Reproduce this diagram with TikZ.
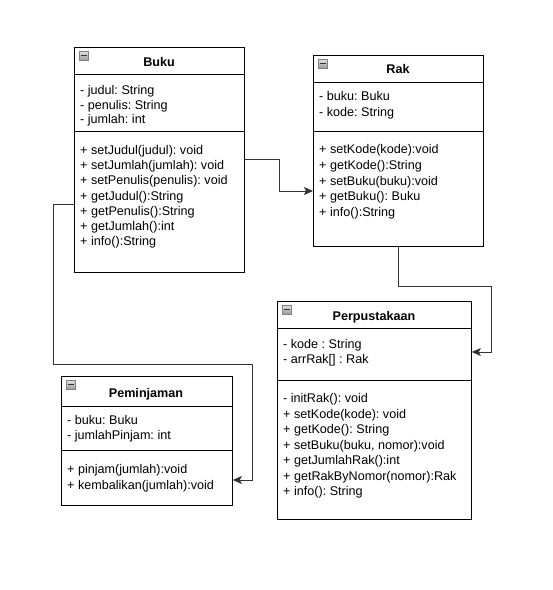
\documentclass[tikz,border=0pt]{standalone}
\usepackage{fontspec}
\setmainfont{Liberation Sans}
\frenchspacing
\usetikzlibrary{arrows.meta,calc}
\tikzset{
  cls/.style={draw=black, line width=0.8pt, fill=white, rectangle, inner sep=0pt, anchor=north west},
  sepline/.style={draw=black, line width=0.8pt},
  txt/.style={inner sep=0pt, anchor=base west, font=\fontsize{12.6}{14}\selectfont},
  ttl/.style={inner sep=0pt, anchor=center, font=\fontsize{12.6}{14}\selectfont\bfseries},
  icon/.style={draw=black!50, line width=0.5pt, top color=black!12, bottom color=black!40, minimum size=9pt, inner sep=0pt, anchor=north west},
  conn/.style={draw=black!80, line width=0.9pt, -{Stealth[length=9pt,width=8pt,inset=2pt]}},
}
\newcommand{\iconbar}{\textcolor{black!80}{\rule[0pt]{6pt}{1.3pt}}}
\begin{document}
\begin{tikzpicture}[x=1pt,y=-1pt]
\useasboundingbox (0,0) rectangle (553,590);
\fill[white] (0,0) rectangle (553,590);

% ---------- Buku ----------
\node[cls, minimum width=170pt, minimum height=225pt] (buku) at (74,47) {};
\draw[sepline] ([yshift=-27pt]buku.north west) -- ([yshift=-27pt]buku.north east);
\draw[sepline] ([yshift=-84pt]buku.north west) -- ([yshift=-84pt]buku.north east);
\node[icon] (bukuI) at (79,51) {\iconbar};
\node[ttl] (bukuT) at (159,62) {Buku};
\foreach \t [count=\i] in {{- judul: String},{- penulis: String},{- jumlah: int}}
  \node[txt] (bukuA\i) at (80,{94.5+14.5*(\i-1)}) {\t};
\foreach \t [count=\i] in {{+ setJudul(judul): void},{+ setJumlah(jumlah): void},{+ setPenulis(penulis): void},{+ getJudul():String},{+ getPenulis():String},{+ getJumlah():int},{+ info():String}}
  \node[txt] (bukuM\i) at (80,{154.5+15.2*(\i-1)}) {\t};

% ---------- Rak ----------
\node[cls, minimum width=170pt, minimum height=191pt] (rak) at (313,55) {};
\draw[sepline] ([yshift=-27pt]rak.north west) -- ([yshift=-27pt]rak.north east);
\draw[sepline] ([yshift=-76pt]rak.north west) -- ([yshift=-76pt]rak.north east);
\node[icon] (rakI) at (318,59) {\iconbar};
\node[ttl] (rakT) at (398,69) {Rak};
\foreach \t [count=\i] in {{- buku: Buku},{- kode: String}}
  \node[txt] (rakA\i) at (319,{100.5+15.8*(\i-1)}) {\t};
\foreach \t [count=\i] in {{+ setKode(kode):void},{+ getKode():String},{+ setBuku(buku):void},{+ getBuku(): Buku},{+ info():String}}
  \node[txt] (rakM\i) at (319,{153.5+15.8*(\i-1)}) {\t};

% ---------- Perpustakaan ----------
\node[cls, minimum width=194pt, minimum height=218pt] (perp) at (277,301) {};
\draw[sepline] ([yshift=-27pt]perp.north west) -- ([yshift=-27pt]perp.north east);
\draw[sepline] ([yshift=-79pt]perp.north west) -- ([yshift=-79pt]perp.north east);
\node[icon] (perpI) at (282,305) {\iconbar};
\node[ttl] (perpT) at (374,317) {Perpustakaan};
\foreach \t [count=\i] in {{- kode : String},{- arrRak[] : Rak}}
  \node[txt] (perpA\i) at (283,{348.5+14.5*(\i-1)}) {\t};
\foreach \t [count=\i] in {{- initRak(): void},{+ setKode(kode): void},{+ getKode(): String},{+ setBuku(buku, nomor):void},{+ getJumlahRak():int},{+ getRakByNomor(nomor):Rak},{+ info(): String}}
  \node[txt] (perpM\i) at (283,{402.5+15.5*(\i-1)}) {\t};

% ---------- Peminjaman ----------
\node[cls, minimum width=171pt, minimum height=129pt] (pem) at (61,376) {};
\draw[sepline] ([yshift=-30pt]pem.north west) -- ([yshift=-30pt]pem.north east);
\draw[sepline] ([yshift=-74pt]pem.north west) -- ([yshift=-74pt]pem.north east);
\node[icon] (pemI) at (66,380) {\iconbar};
\node[ttl] (pemT) at (146,394) {Peminjaman};
\foreach \t [count=\i] in {{- buku: Buku},{- jumlahPinjam: int}}
  \node[txt] (pemA\i) at (67,{424.5+15.3*(\i-1)}) {\t};
\foreach \t [count=\i] in {{+ pinjam(jumlah):void},{+ kembalikan(jumlah):void}}
  \node[txt] (pemM\i) at (67,{473.5+15.5*(\i-1)}) {\t};

% ---------- Connectors ----------
\draw[conn] ([yshift=-112pt]buku.north east) -- ++(35,0) |- ([yshift=-136pt]rak.north west);
\draw[conn] (rak.south) -- ++(0,40) -- ++(93,0) |- ([yshift=-51pt]perp.north east);
\draw[conn] ([yshift=-157pt]buku.north west) -- ++(-21,0) -- ++(0,160) -- ++(199,0) |- ([yshift=-104pt]pem.north east);
\end{tikzpicture}
\end{document}
